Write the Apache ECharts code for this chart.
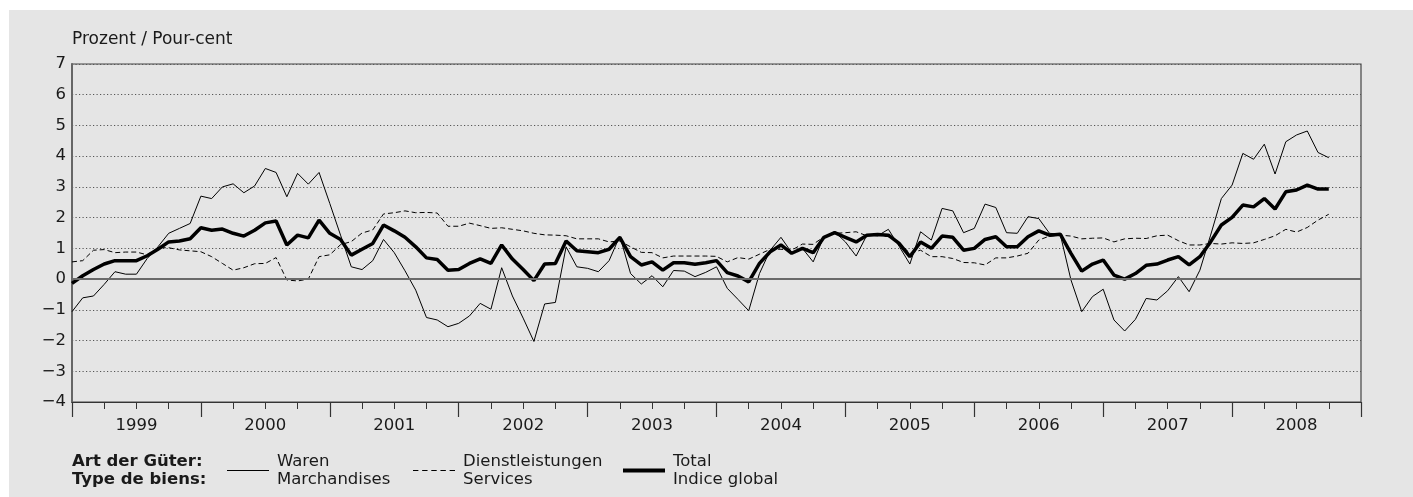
<!DOCTYPE html>
<html>
<head>
<meta charset="utf-8">
<script src="https://cdn.jsdelivr.net/npm/echarts@6/dist/echarts.min.js"></script>
<style>
html,body{margin:0;padding:0;background:#fff;}
#bg{position:absolute;left:9px;top:10px;width:1404px;height:487px;background:#e5e5e5;}
#chart{position:absolute;left:0;top:0;width:1413px;height:497px;}
</style>
</head>
<body>
<div id="bg"></div>
<div id="chart"></div>
<script>
// Year categories for the x axis labels
const years = ['1999','2000','2001','2002','2003','2004','2005','2006','2007','2008'];
const yTicks = [-4,-3,-2,-1,0,1,2,3,4,5,6,7];

// Monthly values from Jan 1999 to Oct 2008 (percent)
const waren = [
 -1.06,-0.61,-0.55,-0.17,0.24,0.16,0.16,0.67,1.05,1.49,1.65,1.81,
 2.70,2.62,3.00,3.10,2.81,3.03,3.60,3.47,2.68,3.44,3.09,3.47,
 2.46,1.43,0.40,0.31,0.60,1.29,0.86,0.27,-0.36,-1.25,-1.33,-1.55,
 -1.44,-1.20,-0.79,-0.98,0.37,-0.55,-1.27,-2.03,-0.81,-0.76,1.05,0.40,
 0.35,0.24,0.60,1.40,0.18,-0.16,0.11,-0.25,0.28,0.26,0.08,0.22,
 0.40,-0.30,-0.66,-1.03,0.18,0.94,1.36,0.86,1.00,0.56,1.38,1.54,
 1.21,0.75,1.43,1.41,1.62,1.07,0.49,1.54,1.27,2.30,2.22,1.51,
 1.65,2.44,2.33,1.51,1.49,2.03,1.97,1.49,1.46,-0.03,-1.06,-0.57,
 -0.33,-1.33,-1.69,-1.31,-0.63,-0.68,-0.38,0.08,-0.41,0.29,1.43,2.62,
 3.06,4.09,3.90,4.39,3.42,4.47,4.69,4.82,4.12,3.95
];
const dienst = [
 0.56,0.60,0.94,0.96,0.86,0.88,0.88,0.79,1.02,1.02,0.95,0.92,
 0.89,0.73,0.51,0.29,0.37,0.50,0.51,0.70,-0.03,-0.06,0.00,0.73,
 0.79,1.12,1.22,1.50,1.60,2.12,2.16,2.22,2.16,2.17,2.15,1.72,
 1.72,1.82,1.74,1.65,1.67,1.62,1.57,1.49,1.44,1.43,1.41,1.31,
 1.31,1.31,1.21,1.24,1.05,0.87,0.86,0.69,0.75,0.75,0.75,0.75,
 0.74,0.56,0.70,0.65,0.81,0.97,0.97,0.94,1.14,1.13,1.38,1.49,
 1.51,1.54,1.41,1.43,1.38,1.18,0.84,0.94,0.73,0.73,0.67,0.54,
 0.53,0.46,0.69,0.69,0.75,0.84,1.27,1.40,1.43,1.40,1.31,1.33,
 1.34,1.21,1.31,1.33,1.32,1.41,1.43,1.25,1.11,1.11,1.16,1.14,
 1.18,1.16,1.18,1.29,1.41,1.62,1.53,1.68,1.92,2.11
];
const total = [
 -0.14,0.11,0.31,0.49,0.60,0.60,0.60,0.76,0.97,1.21,1.24,1.31,
 1.67,1.59,1.63,1.49,1.40,1.59,1.83,1.89,1.11,1.43,1.34,1.92,
 1.49,1.29,0.78,0.97,1.16,1.76,1.57,1.36,1.05,0.69,0.64,0.29,
 0.31,0.51,0.66,0.51,1.11,0.65,0.31,-0.05,0.49,0.51,1.24,0.92,
 0.89,0.86,0.97,1.36,0.73,0.46,0.56,0.29,0.53,0.53,0.48,0.53,
 0.60,0.21,0.10,-0.09,0.51,0.89,1.11,0.84,1.00,0.86,1.36,1.51,
 1.36,1.21,1.43,1.45,1.43,1.16,0.73,1.21,1.00,1.40,1.36,0.94,
 1.00,1.29,1.38,1.05,1.05,1.38,1.57,1.43,1.46,0.84,0.26,0.49,
 0.62,0.13,0.00,0.18,0.45,0.49,0.62,0.73,0.46,0.73,1.21,1.76,
 2.01,2.41,2.35,2.62,2.28,2.84,2.90,3.06,2.93,2.93
];

const pair = arr => arr.map((v, i) => [i, v]);
const FONT = 'DejaVu Sans';
const TXT = '#1a1a1a';

const chart = echarts.init(document.getElementById('chart'), null, {renderer: 'canvas'});
const legendBase = {
  orient: 'horizontal', top: 452, padding: 0, itemWidth: 42, itemGap: 8,
  selectedMode: false,
  textStyle: {fontFamily: FONT, fontSize: 16.5, color: TXT, lineHeight: 18.5, padding: [0, 0, 0, 3]}
};
chart.setOption({
  animation: false,
  backgroundColor: 'transparent',
  textStyle: {fontFamily: FONT},
  grid: {left: 72, top: 64, right: 52, bottom: 95, show: true, borderColor: '#444', borderWidth: 1.2, backgroundColor: 'transparent'},
  title: {text: 'Prozent / Pour-cent', left: 72, top: 31, padding: 0,
    textStyle: {fontFamily: FONT, fontSize: 17, fontWeight: 'normal', color: TXT}},
  legend: [
    Object.assign({}, legendBase, {left: 227, itemHeight: 1.2, icon: 'rect',
      itemStyle: {color: '#000'}, data: ['Waren'], formatter: () => 'Waren\nMarchandises'}),
    Object.assign({}, legendBase, {left: 413, itemHeight: 1.2,
      icon: 'path://M0,0h5v1h-5z M8.5,0h5v1h-5z M17,0h5v1h-5z M25.5,0h5v1h-5z M34,0h5v1h-5z',
      itemStyle: {color: '#000'}, data: ['Dienstleistungen'], formatter: () => 'Dienstleistungen\nServices'}),
    Object.assign({}, legendBase, {left: 623, itemHeight: 4, icon: 'rect',
      itemStyle: {color: '#000'}, data: ['Total'], formatter: () => 'Total\nIndice global'})
  ],
  graphic: [{
    type: 'text', left: 72, top: 452,
    style: {text: 'Art der Güter:\nType de biens:', font: 'bold 16.5px "DejaVu Sans"', fill: TXT, lineHeight: 18.5}
  }],
  xAxis: [{
    type: 'value', min: 0, max: 120, interval: 12,
    axisLine: {show: true, onZero: false, lineStyle: {color: '#333', width: 1.2}},
    axisTick: {show: true, length: 15, lineStyle: {color: '#333', width: 1.2}},
    minorTick: {show: true, splitNumber: 4, length: 7, lineStyle: {color: '#333', width: 1}},
    axisLabel: {show: false},
    splitLine: {show: false}
  }, {
    type: 'category', data: years, boundaryGap: true, position: 'bottom',
    axisLine: {show: false, onZero: false}, axisTick: {show: false},
    axisLabel: {show: true, margin: 15, fontFamily: FONT, fontSize: 16.5, color: TXT},
    splitLine: {show: false}
  }],
  yAxis: {
    type: 'value', min: yTicks[0], max: yTicks[yTicks.length - 1], interval: 1,
    axisLine: {show: true, lineStyle: {color: '#666', width: 2}},
    axisTick: {show: false},
    axisLabel: {margin: 6, fontFamily: FONT, fontSize: 16.5, color: TXT,
      formatter: v => (v < 0 ? '\u2212' + Math.abs(v) : String(v))},
    splitLine: {show: true, lineStyle: {color: '#555', width: 1, type: [1.2, 2.3]}}
  },
  series: [{
    name: 'Waren', type: 'line', xAxisIndex: 0, data: pair(waren), symbol: 'none',
    lineStyle: {color: '#000', width: 1}, itemStyle: {color: '#000'}, z: 3,
    markLine: {silent: true, symbol: 'none', label: {show: false},
      lineStyle: {color: '#6a6a6a', width: 2, type: 'solid'}, data: [{yAxis: 0}]}
  }, {
    name: 'Dienstleistungen', type: 'line', xAxisIndex: 0, data: pair(dienst), symbol: 'none',
    lineStyle: {color: '#000', width: 1, type: [5, 3]}, itemStyle: {color: '#000'}, z: 3
  }, {
    name: 'Total', type: 'line', xAxisIndex: 0, data: pair(total), symbol: 'none',
    lineStyle: {color: '#000', width: 3.5}, itemStyle: {color: '#000'}, z: 4
  }]
});
</script>
</body>
</html>
